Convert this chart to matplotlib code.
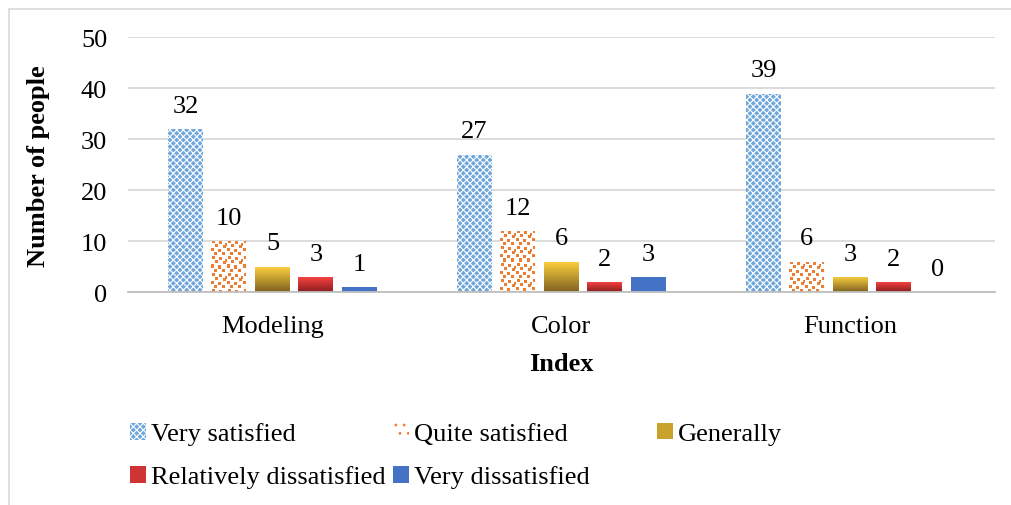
import numpy as np
import matplotlib
matplotlib.use('Agg')
import matplotlib.pyplot as plt
from matplotlib.patches import Patch, Rectangle
from matplotlib.colors import to_rgb

plt.rcParams['font.family'] = ['Liberation Serif', 'DejaVu Serif']
plt.rcParams['hatch.linewidth'] = 0.8

# data
categories = ['Modeling', 'Color', 'Function']
series = ['Very satisfied', 'Quite satisfied', 'Generally',
          'Relatively dissatisfied', 'Very dissatisfied']
very_satisfied = [32, 27, 39]
quite_satisfied = [10, 12, 6]
generally = [5, 6, 3]
relatively_dissatisfied = [3, 2, 2]
very_dissatisfied = [1, 3, 0]
yticks = [0, 10, 20, 30, 40, 50]

values = [very_satisfied, quite_satisfied, generally,
          relatively_dissatisfied, very_dissatisfied]

W, H, DPI = 1011, 506, 100
FS = 19
fig = plt.figure(figsize=(W / DPI, H / DPI), dpi=DPI)
ax = fig.add_axes([0.1266, 0.42, 0.8574, 0.504])
ax.set_xlim(-0.5, 2.5)
ax.set_ylim(0, 50)

# pixels per data unit, used to size the textures
px_x = 0.8574 * W / 3.0
px_y = 0.504 * H / 50.0


def rgb(c):
    return np.array(to_rgb(c))


def squares_tile():
    t = np.ones((16, 16, 3))
    for i, j in [(0, 1), (1, 8), (4, 4), (5, 12), (8, 0), (9, 7),
                 (12, 3), (12, 11), (3, 14)]:
        t[i:i + 3, j:j + 3] = rgb('#ED7D31')
    return t


def tiled(tile, h, w):
    th, tw = tile.shape[:2]
    reps = (h // th + 1, w // tw + 1, 1)
    return np.tile(tile, reps)[:h, :w]


def gradient(top, bottom, n=100):
    f = np.linspace(0, 1, n)[:, None, None]
    return (1 - f) * rgb(top) + f * rgb(bottom)


fills = [
    ('hatch', ('#6FA6DC', 'white', 'xxxxx')),
    ('tile', squares_tile()),
    ('grad', ('#FFD23F', '#7F6121')),
    ('grad', ('#FF4444', '#8A1E1E')),
    ('solid', '#4472C4'),
]

x = np.arange(len(categories))
width = 0.121
step = 0.1505

for k, (name, vals) in enumerate(zip(series, values)):
    pos = x + (k - 2) * step
    kind = fills[k][0]
    if kind == 'solid':
        bars = ax.bar(pos, vals, width, color=fills[k][1], zorder=2)
    elif kind == 'hatch':
        fc, hc, hatch = fills[k][1]
        bars = ax.bar(pos, vals, width, facecolor=fc, edgecolor=hc,
                      hatch=hatch, linewidth=0, zorder=2)
    else:
        bars = ax.bar(pos, vals, width, color='none', linewidth=0, zorder=2)
        for rect, v in zip(bars, vals):
            if v <= 0:
                continue
            x0 = rect.get_x()
            x1 = x0 + rect.get_width()
            if kind == 'tile':
                arr = tiled(fills[k][1], int(round(v * px_y)), int(round(width * px_x)))
            else:
                arr = gradient(*fills[k][1])
            img = ax.imshow(arr, extent=(x0, x1, 0, v), aspect='auto',
                            interpolation='nearest', zorder=2)
            img.set_clip_path(rect)
    ax.bar_label(bars, padding=9, fontsize=FS)

ax.set_xlim(-0.5, 2.5)
ax.set_ylim(0, 50)
ax.set_xticks(x)
ax.set_xticklabels(categories, fontsize=FS)
ax.set_yticks(yticks)
ax.tick_params(axis='y', length=0, pad=15, labelsize=FS)
ax.tick_params(axis='x', length=0, pad=16)
ax.yaxis.grid(True, color='#D9D9D9', linewidth=1.3)
ax.set_axisbelow(True)
for s in ['top', 'right', 'left']:
    ax.spines[s].set_visible(False)
ax.spines['bottom'].set_color('#BFBFBF')
ax.spines['bottom'].set_linewidth(1.3)
ax.spines['bottom'].set_zorder(3)

ax.set_xlabel('Index', fontsize=FS, fontweight='bold', labelpad=11)
ax.set_ylabel('Number of people', fontsize=FS, fontweight='bold', labelpad=22)

# chart area border
fig.patches.append(Rectangle((9 / W, -0.1), 1.2, 1.1 - 10 / H, transform=fig.transFigure,
                             facecolor='none', edgecolor='#D9D9D9', linewidth=1.2))

# legend, one entry per slot as in the reference
handles = [
    Patch(facecolor='#6FA6DC', edgecolor='white', hatch='xxxxx', linewidth=0),
    Patch(facecolor='white', edgecolor='#ED7D31', hatch='..', linewidth=0),
    Patch(facecolor='#C9A22D', linewidth=0),
    Patch(facecolor='#D03333', linewidth=0),
    Patch(facecolor='#4472C4', linewidth=0),
]
slots_x = [130 / W, 393 / W, 657 / W]
slots_y = [1 - 435 / H, 1 - 478 / H]
for k, (h, name) in enumerate(zip(handles, series)):
    fig.legend(handles=[h], labels=[name], loc='center left',
               bbox_to_anchor=(slots_x[k % 3], slots_y[k // 3]),
               frameon=False, fontsize=FS, borderpad=0, borderaxespad=0,
               handlelength=0.6, handleheight=0.6, handletextpad=0.2)

fig.savefig('out.png', dpi=DPI)
